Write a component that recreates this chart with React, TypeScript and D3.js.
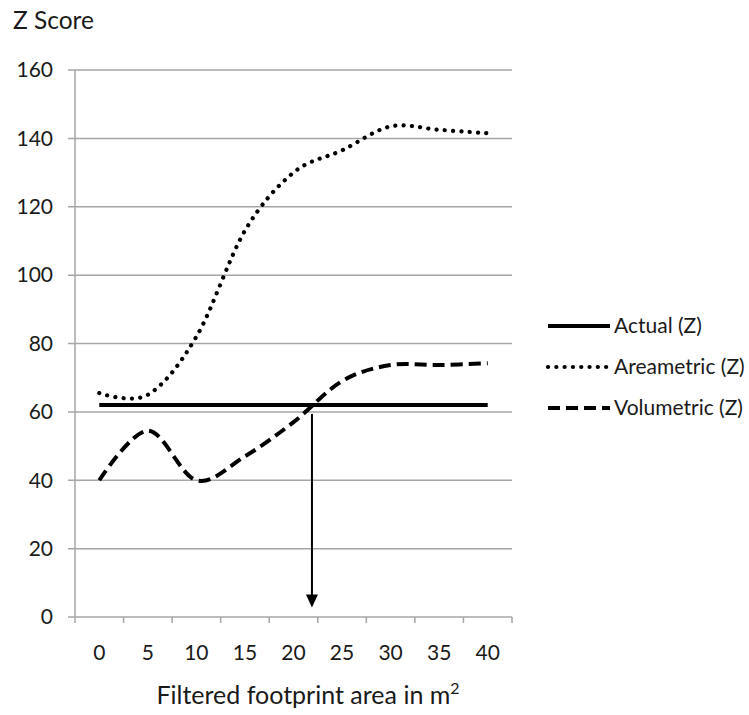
import React, { useEffect, useRef } from "react";
import * as d3 from "d3";

const categories = ["0", "5", "10", "15", "20", "25", "30", "35", "40"];
const actual = [62, 62, 62, 62, 62, 62, 62, 62, 62];
const areametric = [65.5, 65, 82, 113, 130, 136.5, 143.5, 142.5, 141.5];
const volumetric = [40, 54.5, 40, 47, 57, 69, 73.7, 73.7, 74.2];
const yTicks = [0, 20, 40, 60, 80, 100, 120, 140, 160];
// arrow marking where volumetric crosses actual
const arrowX = 21.9;
const arrowFrom = 59.4;
const arrowTo = 2.8;

const series = [
  { name: "Actual (Z)", values: actual, width: 4, dash: null, cap: "butt" },
  { name: "Areametric (Z)", values: areametric, width: 4.2, dash: "0.1 8.2", cap: "round" },
  { name: "Volumetric (Z)", values: volumetric, width: 4, dash: "12 6", cap: "butt" },
];

export default function App() {
  const svgRef = useRef<SVGSVGElement>(null);

  useEffect(() => {
    const width = 749;
    const height = 715;
    const marginLeft = 75;
    const marginRight = 237;
    const marginTop = 70;
    const marginBottom = 98;
    const font = "Lato, 'Open Sans', sans-serif";

    const svg = d3.select(svgRef.current)
      .attr("width", width)
      .attr("height", height)
      .attr("viewBox", [0, 0, width, height]);

    svg.selectAll("*").remove();

    const x = d3.scaleBand()
      .domain(categories)
      .range([marginLeft, width - marginRight]);

    const y = d3.scaleLinear()
      .domain([0, 160])
      .range([height - marginBottom, marginTop]);

    const cx = (c: string) => (x(c) as number) + x.bandwidth() / 2;
    const xVal = d3.scaleLinear()
      .domain([0, 40])
      .range([cx("0"), cx("40")]);

    // gridlines
    svg.append("g")
      .attr("stroke", "#a6a6a6")
      .attr("stroke-width", 1.5)
      .selectAll("line")
      .data(yTicks)
      .join("line")
        .attr("x1", marginLeft - 7)
        .attr("x2", width - marginRight)
        .attr("y1", d => y(d))
        .attr("y2", d => y(d));

    // y axis line
    svg.append("line")
      .attr("x1", marginLeft).attr("x2", marginLeft)
      .attr("y1", y(160)).attr("y2", y(0))
      .attr("stroke", "#a6a6a6").attr("stroke-width", 1.5);

    // x axis ticks between categories
    const bounds = categories.map(c => x(c) as number).concat([width - marginRight]);
    svg.append("g")
      .attr("stroke", "#a6a6a6")
      .attr("stroke-width", 1.5)
      .selectAll("line")
      .data(bounds)
      .join("line")
        .attr("x1", d => d).attr("x2", d => d)
        .attr("y1", y(0)).attr("y2", y(0) + 6);

    // y labels
    svg.append("g")
      .attr("font-family", font)
      .attr("font-size", 21)
      .attr("fill", "#1a1a1a")
      .attr("text-anchor", "end")
      .selectAll("text")
      .data(yTicks)
      .join("text")
        .attr("x", marginLeft - 22)
        .attr("y", d => y(d))
        .attr("dy", "0.35em")
        .text(d => d);

    // x labels
    svg.append("g")
      .attr("font-family", font)
      .attr("font-size", 21)
      .attr("fill", "#1a1a1a")
      .attr("text-anchor", "middle")
      .selectAll("text")
      .data(categories)
      .join("text")
        .attr("x", d => cx(d))
        .attr("y", 653)
        .attr("dy", "0.35em")
        .text(d => d);

    svg.append("text")
      .attr("x", 13)
      .attr("y", 29)
      .attr("font-family", font)
      .attr("font-size", 24.5)
      .attr("fill", "#1a1a1a")
      .text("Z Score");

    const title = svg.append("text")
      .attr("x", (154 + 462) / 2)
      .attr("y", 704)
      .attr("font-family", font)
      .attr("font-size", 25)
      .attr("fill", "#1a1a1a")
      .attr("text-anchor", "middle");
    title.append("tspan").text("Filtered footprint area in m");
    title.append("tspan").attr("font-size", 16).attr("dy", -10).text("2");

    // series lines
    const line = d3.line<number>()
      .x((_, i) => cx(categories[i]))
      .y(d => y(d))
      .curve(d3.curveCatmullRom.alpha(0));

    svg.append("g")
      .selectAll("path")
      .data(series)
      .join("path")
        .attr("d", d => line(d.values))
        .attr("fill", "none")
        .attr("stroke", "#000")
        .attr("stroke-width", d => d.width)
        .attr("stroke-linecap", d => d.cap)
        .attr("stroke-dasharray", d => d.dash);

    // arrow
    const ax = xVal(arrowX);
    svg.append("line")
      .attr("x1", ax).attr("x2", ax)
      .attr("y1", y(arrowFrom)).attr("y2", y(arrowTo) - 12)
      .attr("stroke", "#000").attr("stroke-width", 2);
    svg.append("path")
      .attr("d", `M${ax - 6},${y(arrowTo) - 13}L${ax + 6},${y(arrowTo) - 13}L${ax},${y(arrowTo)}Z`)
      .attr("fill", "#000");

    // legend
    const legend = svg.append("g")
      .attr("font-family", font)
      .attr("font-size", 21)
      .attr("fill", "#1a1a1a");
    const legendY = [326, 367, 408];
    series.forEach((s, i) => {
      legend.append("line")
        .attr("x1", 548).attr("x2", 610)
        .attr("y1", legendY[i]).attr("y2", legendY[i])
        .attr("stroke", "#000")
        .attr("stroke-width", s.width)
        .attr("stroke-linecap", s.cap)
        .attr("stroke-dasharray", s.dash);
      legend.append("text")
        .attr("x", 614)
        .attr("y", legendY[i])
        .attr("dy", "0.35em")
        .text(s.name);
    });
  }, []);

  return (
    <svg ref={svgRef} style={{ position: "absolute", left: 0, top: 0, background: "#fff" }}></svg>
  );
}
